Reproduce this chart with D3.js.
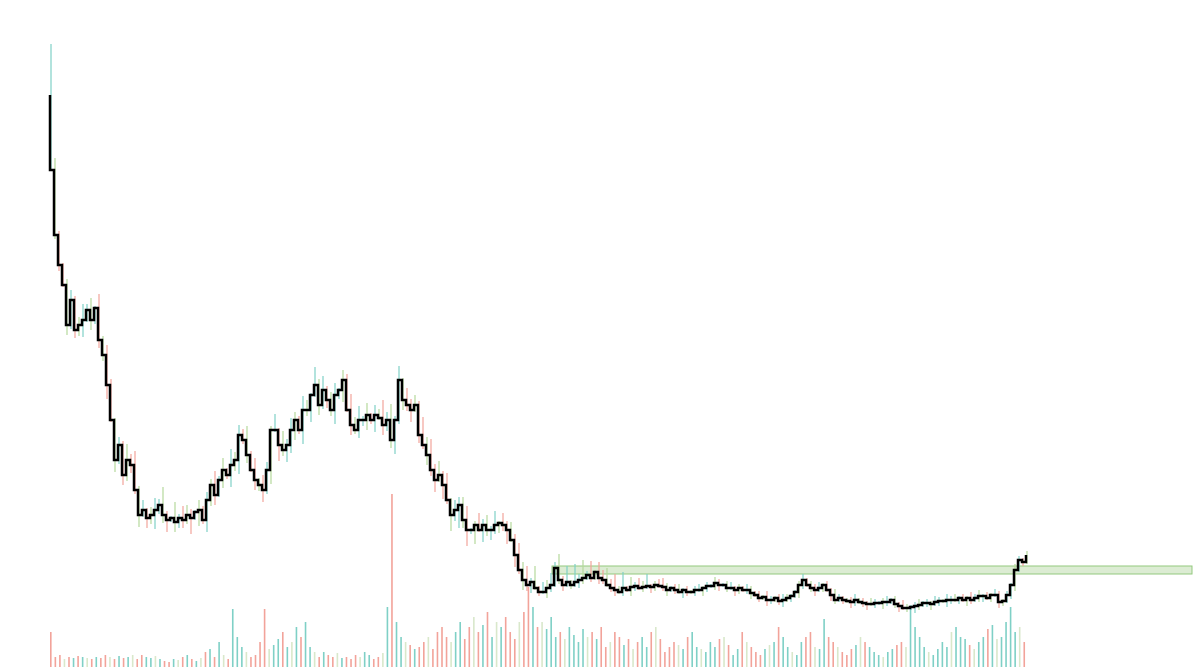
<!DOCTYPE html><html><head><meta charset="utf-8"><script src="https://cdn.jsdelivr.net/npm/d3@7"></script>
<style>body{margin:0;background:#fff}</style></head><body><svg id="c" width="1200" height="667"></svg>
<script>
const firstOpen = 572, firstHigh = 623;
const closes = [497,432,402,382,342,367,337,342,347,357,347,359,327,312,282,247,207,222,192,207,202,177,152,157,149,152,157,162,152,147,149,145,149,147,152,149,155,157,147,167,182,172,187,197,192,202,207,232,227,212,197,187,182,177,197,237,237,222,217,222,237,247,237,257,257,272,282,262,277,267,257,272,277,287,257,242,237,247,247,252,247,252,249,242,247,227,247,287,267,262,257,262,232,222,212,197,187,192,182,167,152,157,162,147,137,137,142,137,142,137,137,142,144,142,137,127,112,97,87,82,85,79,75,75,79,82,99,87,82,85,82,85,87,89,92,89,95,89,87,82,79,77,75,79,77,80,81,79,80,81,80,82,81,80,77,79,77,75,77,75,75,77,77,79,81,81,84,82,82,79,79,77,79,77,77,74,72,69,70,67,67,69,66,67,69,71,75,82,87,82,79,77,79,82,77,72,67,69,67,66,65,67,65,64,63,63,64,64,65,65,67,63,61,59,59,60,61,62,64,64,63,65,66,66,67,67,67,69,67,69,67,69,71,71,69,72,72,65,66,72,82,97,107,105,112];
const wickUp   = "06213524836172531428372514639218265315243726184537261542817364275193724615384726153948271635294837261544712635271524364728154637281939271546372815243612342123121231213212312132121321232112312231213211231213212312132123121321323121323121321213212312132123121334";
const wickDown = "02315243615243716253426153724615342817263514263724153627183645273615243726152435261534725361425361728394827163524371625341213212312132121321231213212132123121321213212312132123121321231213212312132121321231213212312132123121321213212312132123121321213214313";
const volumes = [35,10,12,8,10,9,11,10,9,8,10,9,12,10,8,11,9,10,12,8,12,10,9,11,8,6,5,8,7,10,12,8,6,9,15,18,10,25,12,8,58,30,20,15,10,12,25,58,18,22,28,35,20,25,40,30,45,20,15,10,15,12,10,14,9,10,8,12,10,15,12,8,10,14,60,173,45,30,25,22,18,20,25,30,18,35,40,30,25,35,45,28,40,50,35,42,55,30,45,40,50,35,28,45,55,80,60,40,45,38,50,30,35,28,40,32,25,38,30,35,28,40,20,25,35,30,22,28,18,25,30,20,35,40,28,15,20,25,22,18,30,35,20,18,15,25,20,28,30,22,12,18,35,25,20,15,12,18,22,25,40,30,20,15,12,25,30,35,20,18,48,30,25,20,15,12,18,22,30,25,20,15,12,10,15,18,22,25,20,58,40,30,20,15,12,18,25,20,35,40,30,28,22,18,25,30,38,42,28,30,45,60,35,40,25];
const zoneLow = 93, zoneHigh = 101;

const svg = d3.select("#c");
const n = closes.length;
const x = d3.scaleLinear().domain([0, n]).range([50, 1030]);
const y = d3.scaleLinear().domain([0, 667]).range([667, 0]);
const data = closes.map((c,i)=>{
  const o = i===0 ? firstOpen : closes[i-1];
  const up = +(wickUp[i]||1), dn = +(wickDown[i]||1);
  return {i, o, c, h: i===0?firstHigh:Math.max(o,c)+up*2, l: Math.min(o,c)-dn*2};
});
const teal="#7fd0c6", salmon="#f2a39a", green="#b5d99c";
svg.append("rect").attr("x", 552).attr("width", 1192-552)
  .attr("y", y(zoneHigh)).attr("height", y(zoneLow)-y(zoneHigh))
  .attr("fill","#dcecd3").attr("stroke","#93c97f").attr("stroke-width",1);
const vx = d3.scaleLinear().domain([0, volumes.length]).range([50, 1028]);
const vy = d3.scaleLinear().domain([0, 667]).range([667, 0]);
svg.selectAll(".v").data(volumes).join("rect")
  .attr("x",(d,i)=>vx(i)).attr("width",1.6)
  .attr("y",d=>vy(d)).attr("height",d=>667-vy(d))
  .attr("fill",(d,i)=>{const k=Math.floor(i*n/volumes.length);const dd=data[k];return i%5===3?"#d9e8cb":(dd.c>=dd.o?teal:salmon);});
svg.selectAll(".w").data(data).join("line")
  .attr("x1",d=>x(d.i)+1).attr("x2",d=>x(d.i)+1)
  .attr("y1",d=>y(d.h)).attr("y2",d=>y(d.l))
  .attr("stroke",d=>d.i===0?teal:(d.i%3===1?green:(d.c>=d.o?teal:salmon))).attr("stroke-width",1.2);
const pts=[];
data.forEach(d=>{pts.push([x(d.i),y(d.o)]);pts.push([x(d.i),y(d.c)]);pts.push([x(d.i+1),y(d.c)]);});
pts.pop();
svg.append("path").attr("d",d3.line()(pts)).attr("fill","none").attr("stroke","#000").attr("stroke-width",2.5);
</script></body></html>
